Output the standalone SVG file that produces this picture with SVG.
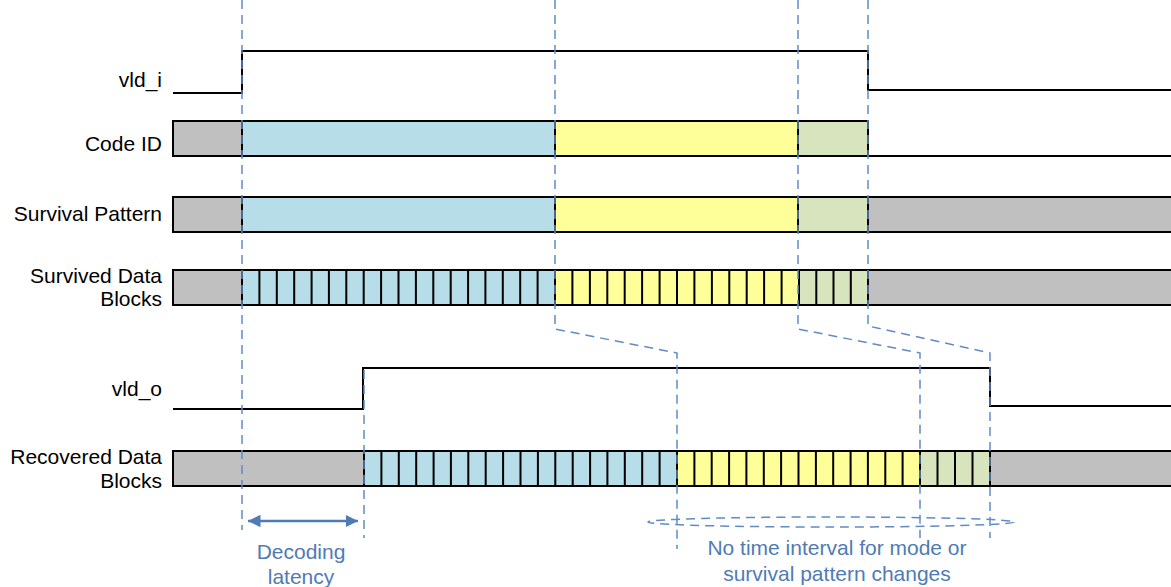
<svg xmlns="http://www.w3.org/2000/svg" width="1171" height="587" viewBox="0 0 1171 587">
<defs>
<style>
.lbl{font-family:"Liberation Sans",Arial,sans-serif;font-size:21px;fill:#000;text-anchor:end}
.note{font-family:"Liberation Sans",Arial,sans-serif;font-size:21px;fill:#4f7bb5;text-anchor:middle}
.sig{fill:none;stroke:#000;stroke-width:2}
.box{stroke:#000;stroke-width:2}
.div{fill:none;stroke:#000;stroke-width:2}
.gray{fill:#c0c0c0}
.blue{fill:#b7dde8}
.yel{fill:#ffff99}
.grn{fill:#d7e4bd}
.dash{fill:none;stroke:#5f8cc6;stroke-width:1.5;stroke-dasharray:9,6}
</style>
<marker id="ah" viewBox="0 0 10 10" refX="10" refY="5" markerWidth="5" markerHeight="5" orient="auto-start-reverse" markerUnits="strokeWidth">
<path d="M0,0 L10,5 L0,10 z" fill="#4f7bb5"/>
</marker>
</defs>
<rect width="1171" height="587" fill="#fff"/>

<g id="labels">
<text class="lbl" x="162" y="87">vld_i</text>
<text class="lbl" x="162" y="151">Code ID</text>
<text class="lbl" x="162" y="221">Survival Pattern</text>
<text class="lbl" x="162" y="283">Survived Data</text>
<text class="lbl" x="162" y="306">Blocks</text>
<text class="lbl" x="162" y="396">vld_o</text>
<text class="lbl" x="162" y="464">Recovered Data</text>
<text class="lbl" x="162" y="488">Blocks</text>
</g>

<g id="vld_i">
<path class="sig" d="M173 93 H242 V51 H868 V90 H1171"/>
</g>

<g id="code_id">
<rect class="box gray" x="173" y="121" width="69" height="35"/>
<rect class="box blue" x="242" y="121" width="313" height="35"/>
<rect class="box yel" x="555" y="121" width="243" height="35"/>
<rect class="box grn" x="798" y="121" width="70" height="35"/>
<path class="sig" d="M868 156 H1171"/>
</g>

<g id="survival_pattern">
<rect class="box gray" x="173" y="197" width="69" height="35"/>
<rect class="box blue" x="242" y="197" width="313" height="35"/>
<rect class="box yel" x="555" y="197" width="243" height="35"/>
<rect class="box grn" x="798" y="197" width="70" height="35"/>
<rect class="box gray" x="868" y="197" width="310" height="35"/>
</g>

<g id="survived_blocks">
<rect class="box gray" x="173" y="270" width="69" height="35"/>
<rect class="box blue" x="242" y="270" width="313" height="35"/>
<rect class="box yel" x="555" y="270" width="244" height="35"/>
<rect class="box grn" x="799" y="270" width="69" height="35"/>
<rect class="box gray" x="868" y="270" width="310" height="35"/>
<path class="div" d="M259.4 270V305M276.8 270V305M294.2 270V305M311.6 270V305M328.9 270V305M346.3 270V305M363.7 270V305M381.1 270V305M398.5 270V305M415.9 270V305M433.3 270V305M450.7 270V305M468.1 270V305M485.4 270V305M502.8 270V305M520.2 270V305M537.6 270V305M572.4 270V305M589.9 270V305M607.3 270V305M624.7 270V305M642.1 270V305M659.6 270V305M677 270V305M694.4 270V305M711.9 270V305M729.3 270V305M746.7 270V305M764.1 270V305M781.6 270V305M816.3 270V305M833.5 270V305M850.8 270V305"/>
</g>

<g id="vld_o">
<path class="sig" d="M173 409 H363 V368 H990 V406 H1171"/>
</g>

<g id="recovered_blocks">
<rect class="box gray" x="173" y="451" width="191" height="35"/>
<rect class="box blue" x="364" y="451" width="313" height="35"/>
<rect class="box yel" x="677" y="451" width="243" height="35"/>
<rect class="box grn" x="920" y="451" width="70" height="35"/>
<rect class="box gray" x="990" y="451" width="190" height="35"/>
<path class="div" d="M381.4 451V486M398.8 451V486M416.2 451V486M433.6 451V486M450.9 451V486M468.3 451V486M485.7 451V486M503.1 451V486M520.5 451V486M537.9 451V486M555.3 451V486M572.7 451V486M590.1 451V486M607.4 451V486M624.8 451V486M642.2 451V486M659.6 451V486M694.4 451V486M711.7 451V486M729.1 451V486M746.4 451V486M763.8 451V486M781.1 451V486M798.5 451V486M815.9 451V486M833.2 451V486M850.6 451V486M867.9 451V486M885.3 451V486M902.6 451V486M937.5 451V486M955 451V486M972.5 451V486"/>
</g>

<g id="connectors">
<path class="dash" d="M242 0 V530"/>
<path class="dash" d="M364 370 V538"/>
<path class="dash" d="M555 0 V329 L677 353 V549"/>
<path class="dash" d="M798 0 V329 L920 353 V538"/>
<path class="dash" d="M868 0 V326 L990 353 V538"/>
<ellipse class="dash" cx="831" cy="522" rx="183" ry="5"/>
<line x1="248" y1="521" x2="358" y2="521" stroke="#4f7bb5" stroke-width="2.5" marker-start="url(#ah)" marker-end="url(#ah)"/>
</g>

<g id="notes">
<text class="note" x="301" y="559">Decoding</text>
<text class="note" x="301" y="584">latency</text>
<text class="note" x="837" y="555">No time interval for mode or</text>
<text class="note" x="837" y="581">survival pattern changes</text>
</g>
</svg>
